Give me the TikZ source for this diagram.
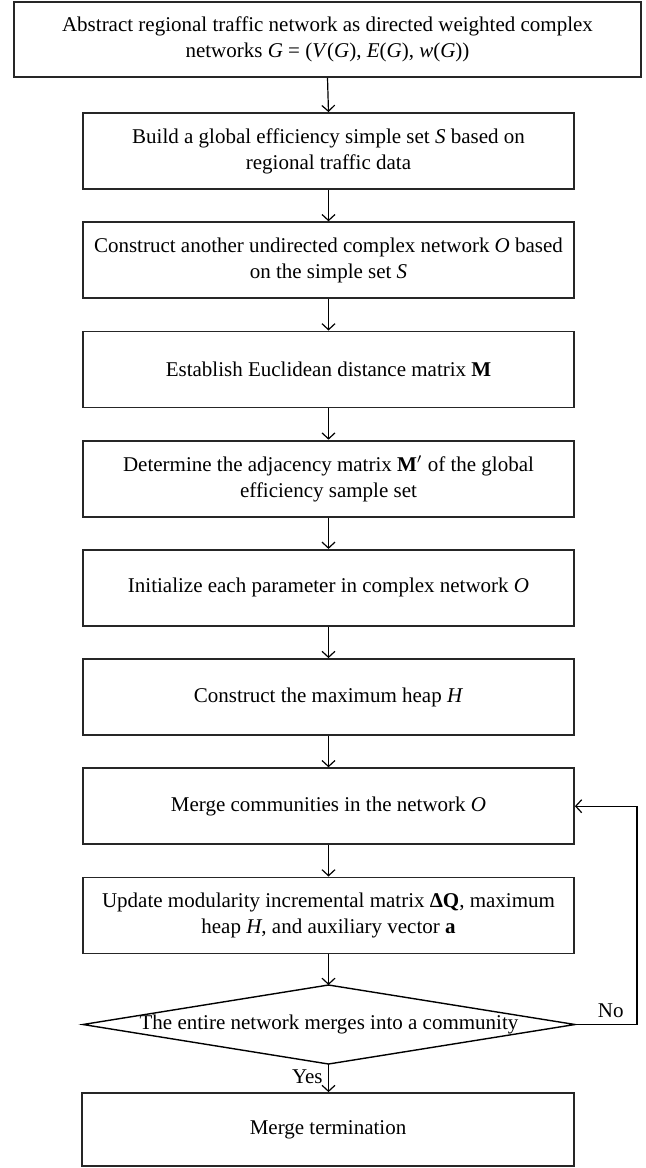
\documentclass[tikz,border=0pt]{standalone}
\usepackage{fontspec}
\setmainfont{Liberation Serif}
\usetikzlibrary{arrows.meta}
\begin{document}
\begin{tikzpicture}[x=0.5pt,y=-0.5pt,
  box/.style={draw=black!85, line width=0.9pt, align=center, inner sep=0pt,
    minimum width=245.5pt, minimum height=38pt, font=\fontsize{10.5}{13}\selectfont},
  arr/.style={-{Straight Barb[length=3pt,width=6.5pt]}, line width=0.6pt},
  lbl/.style={font=\fontsize{10.5}{13}\selectfont, inner sep=0pt}]
\useasboundingbox (0,0) rectangle (645,1168);
\node[box, minimum width=313.5pt, minimum height=37.5pt] (b1) at (327.5,39.5)
  {Abstract regional traffic network as directed weighted complex\\
   networks \textit{G} = (\textit{V}(\textit{G}), \textit{E}(\textit{G}), \textit{w}(\textit{G}))};
\node[box] (b2) at (328.5,151) {Build a global efficiency simple set \textit{S} based on\\ regional traffic data};
\node[box] (b3) at (328.5,260.2) {Construct another undirected complex network \textit{O} based\\ on the simple set \textit{S}};
\node[box] (b4) at (328.5,369.4) {Establish Euclidean distance matrix \textbf{M}};
\node[box] (b5) at (328.5,478.6) {Determine the adjacency matrix \textbf{M}$'$ of the global\\ efficiency sample set};
\node[box] (b6) at (328.5,587.8) {Initialize each parameter in complex network \textit{O}};
\node[box] (b7) at (328.5,697) {Construct the maximum heap \textit{H}};
\node[box] (b8) at (328.5,806.2) {Merge communities in the network \textit{O}};
\node[box] (b9) at (328.5,915.4) {Update modularity incremental matrix \textbf{ΔQ}, maximum\\ heap \textit{H}, and auxiliary vector \textbf{a}};
\coordinate (dt) at (328.5,985);
\coordinate (dr) at (575,1024.5);
\coordinate (db) at (328.5,1064);
\coordinate (dl) at (83,1024.5);
\draw[line width=0.7pt] (dt) -- (dr) -- (db) -- (dl) -- cycle;
\node[lbl] (dtxt) at (329,1024.5) {The entire network merges into a community};
\node[box, minimum width=246pt, minimum height=36.5pt] (b10) at (328,1129.5) {Merge termination};
\draw[arr] (b1.south) -- (b2.north);
\draw[arr] (b2.south) -- (b3.north);
\draw[arr] (b3.south) -- (b4.north);
\draw[arr] (b4.south) -- (b5.north);
\draw[arr] (b5.south) -- (b6.north);
\draw[arr] (b6.south) -- (b7.north);
\draw[arr] (b7.south) -- (b8.north);
\draw[arr] (b8.south) -- (b9.north);
\draw[arr] (b9.south) -- (dt);
\draw[arr] (db) -- (db |- b10.north);
\coordinate (la) at (637,1024.5);
\coordinate (lb) at (la |- b8.east);
\draw[arr] (dr) -- (la) -- (lb) -- (b8.east);
\node[lbl, anchor=east] (no) at (624,1011) {No};
\node[lbl, anchor=east] (yes) at (323,1077) {Yes};
\end{tikzpicture}
\end{document}
